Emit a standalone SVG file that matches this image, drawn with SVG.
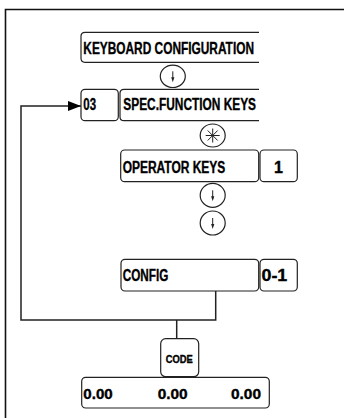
<svg xmlns="http://www.w3.org/2000/svg" width="344" height="418" viewBox="0 0 344 418">
<defs>
<style>
.box{fill:#fff;stroke:#222;stroke-width:1.2}
.ln{fill:none;stroke:#222;stroke-width:1.5}
.t{font-family:"Liberation Sans",Arial,sans-serif;font-weight:bold;fill:#000;stroke:#000;stroke-width:0.35}
.circ{fill:#fff;stroke:#222;stroke-width:1.2}
</style>
<marker id="ah" markerWidth="13" markerHeight="10" refX="13" refY="5" orient="auto" markerUnits="userSpaceOnUse">
<path d="M0,0 L13,5 L0,10 Z" fill="#000"/>
</marker>
<g id="downArrow">
<line x1="0" y1="-5" x2="0" y2="3" stroke="#222" stroke-width="1"/>
<path d="M-1.6,1 L1.6,1 L0,6 Z" fill="#222"/>
</g>
</defs>
<rect width="344" height="418" fill="#fff"/>
<g id="frame">
<path d="M5.5,418 L5.5,9.5 L344,9.5" fill="none" stroke="#111" stroke-width="1.6"/>
</g>
<g id="connectors">
<path class="ln" d="M215.7,291 L215.7,320 L21,320 L21,106 L81,106" marker-end="url(#ah)"/>
<line class="ln" x1="176.7" y1="320" x2="176.7" y2="338.7"/>
</g>
<g id="keyboard-config">
<path class="box" d="M259,32.3 L85,32.3 Q81,32.3 81,36.3 L81,58.3 Q81,62.3 85,62.3 L259,62.3"/>
<text class="t" x="83.3" y="53.5" font-size="16.5" textLength="170.7" lengthAdjust="spacingAndGlyphs">KEYBOARD CONFIGURATION</text>
</g>
<g id="arrow1">
<ellipse class="circ" cx="172.8" cy="76.3" rx="12.5" ry="11.2"/>
<use href="#downArrow" x="172.8" y="76.3"/>
</g>
<g id="code03">
<rect class="box" x="81" y="89.3" width="37.3" height="31.4" rx="4"/>
<text class="t" x="83.3" y="110.2" font-size="16" textLength="12.7" lengthAdjust="spacingAndGlyphs">03</text>
</g>
<g id="spec-function-keys">
<path class="box" d="M259,89.3 L124,89.3 Q120,89.3 120,93.3 L120,116.7 Q120,120.7 124,120.7 L259,120.7"/>
<text class="t" x="123.3" y="110.2" font-size="16" textLength="132.7" lengthAdjust="spacingAndGlyphs">SPEC.FUNCTION KEYS</text>
</g>
<g id="asterisk">
<ellipse class="circ" cx="212.7" cy="135.5" rx="12.5" ry="11.5"/>
<g stroke="#222" stroke-width="1">
<line x1="212.7" y1="128.5" x2="212.7" y2="142.5"/>
<line x1="205.7" y1="135.5" x2="219.7" y2="135.5"/>
<line x1="207.7" y1="130.5" x2="217.7" y2="140.5"/>
<line x1="217.7" y1="130.5" x2="207.7" y2="140.5"/>
</g>
</g>
<g id="operator-keys">
<rect class="box" x="120.7" y="150" width="138" height="31.7" rx="4"/>
<text class="t" x="122.7" y="172.5" font-size="16" textLength="102.6" lengthAdjust="spacingAndGlyphs">OPERATOR KEYS</text>
</g>
<g id="operator-value">
<rect class="box" x="260" y="150" width="37.3" height="31.7" rx="4"/>
<text class="t" x="278.5" y="172.5" font-size="16" text-anchor="middle">1</text>
</g>
<g id="arrow2">
<ellipse class="circ" cx="212.7" cy="195.3" rx="12.5" ry="12"/>
<use href="#downArrow" x="212.7" y="195.3"/>
</g>
<g id="arrow3">
<ellipse class="circ" cx="212.7" cy="223" rx="12.5" ry="12"/>
<use href="#downArrow" x="212.7" y="223"/>
</g>
<g id="config">
<rect class="box" x="121" y="259.3" width="137.7" height="31.7" rx="4"/>
<text class="t" x="122.7" y="281.2" font-size="16" textLength="45.6" lengthAdjust="spacingAndGlyphs">CONFIG</text>
</g>
<g id="config-value">
<rect class="box" x="260" y="259.3" width="37.3" height="31.7" rx="4"/>
<text class="t" x="261.5" y="281.2" font-size="16" textLength="25.8" lengthAdjust="spacingAndGlyphs">0-1</text>
</g>
<g id="code">
<rect class="box" x="160.7" y="338.7" width="38" height="38" rx="5"/>
<text class="t" x="165.7" y="362.8" font-size="10" textLength="27" lengthAdjust="spacingAndGlyphs" stroke-width="0.6">CODE</text>
</g>
<g id="values">
<rect class="box" x="81.7" y="377.3" width="187.6" height="30.7" rx="4"/>
<text class="t" x="83.3" y="398.5" font-size="14" textLength="29.4" lengthAdjust="spacingAndGlyphs">0.00</text>
<text class="t" x="157.7" y="398.5" font-size="14" textLength="30" lengthAdjust="spacingAndGlyphs">0.00</text>
<text class="t" x="231" y="398.5" font-size="14" textLength="30" lengthAdjust="spacingAndGlyphs">0.00</text>
</g>
</svg>
